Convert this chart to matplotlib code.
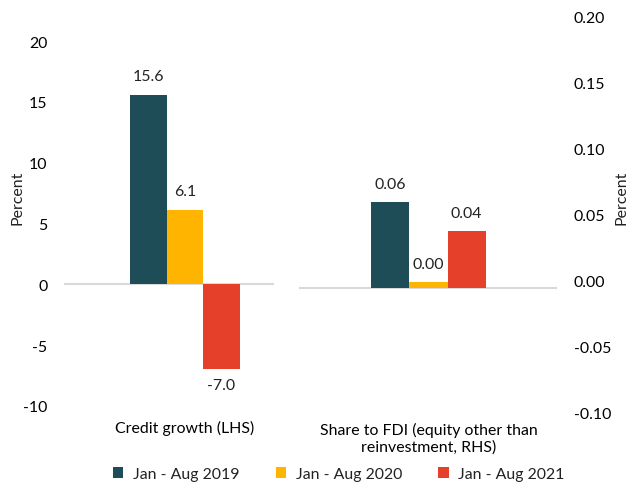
import matplotlib.pyplot as plt
from matplotlib.patches import Patch

plt.rcParams['font.family'] = ['Lato', 'DejaVu Sans']
plt.rcParams['font.size'] = 11.4
plt.rcParams['text.color'] = '#222222'

series = ['Jan - Aug 2019', 'Jan - Aug 2020', 'Jan - Aug 2021']
colors = ['#1E4D58', '#FFB400', '#E5402A']

credit_growth = [15.6, 6.1, -7.0]
credit_labels = ['15.6', '6.1', '-7.0']
fdi_share = [0.06, 0.004, 0.04]
fdi_labels = ['0.06', '0.00', '0.04']

left_ticks = [-10, -5, 0, 5, 10, 15, 20]
right_ticks = [-0.10, -0.05, 0.00, 0.05, 0.10, 0.15, 0.20]

fig = plt.figure(figsize=(6.37, 4.89), dpi=100)

# left panel: credit growth
ax1 = fig.add_axes([0.1005, 0.1677, 0.3297, 0.7464])
pos = [-1, 0, 1]
ax1.bar(pos, credit_growth, width=1.0, color=colors)
ax1.axhline(0, color='#D9D9D9', lw=1.5, zorder=0)
ax1.set_xlim(-3.32, 2.44)
ax1.set_ylim(-10, 20)
ax1.set_yticks(left_ticks)
ax1.set_yticklabels([str(t) for t in left_ticks])
ax1.tick_params(axis='y', length=0, pad=12)
ax1.set_xticks([0])
ax1.set_xticklabels(['Credit growth (LHS)'])
ax1.tick_params(axis='x', length=0, pad=10)
for s in ax1.spines.values():
    s.set_visible(False)
for x, v, lab in zip(pos, credit_growth, credit_labels):
    off = 19 if v >= 0 else -16
    ax1.annotate(lab, (x, v), xytext=(0, off), textcoords='offset pixels',
                 ha='center', va='center')

# right panel: share to FDI
ax2 = fig.add_axes([0.4694, 0.1554, 0.405, 0.8098])
ax2.bar(pos, fdi_share, width=1.0, color=colors)
ax2.axhline(0, color='#D9D9D9', lw=1.5, zorder=0)
ax2.set_xlim(-3.38, 3.36)
ax2.set_ylim(-0.086, 0.189)
ax2.set_yticks([])
ax2.set_xticks([0])
ax2.set_xticklabels(['Share to FDI (equity other than\nreinvestment, RHS)'])
ax2.tick_params(axis='x', length=0, pad=7)
for s in ax2.spines.values():
    s.set_visible(False)
for x, v, lab in zip(pos, fdi_share, fdi_labels):
    ax2.annotate(lab, (x, v), xytext=(0, 18), textcoords='offset pixels',
                 ha='center', va='center')

axr = ax2.twinx()
axr.set_ylim(-0.10, 0.20)
axr.set_yticks(right_ticks)
axr.set_yticklabels(['%.2f' % t for t in right_ticks])
axr.tick_params(axis='y', length=0, pad=12)
for s in axr.spines.values():
    s.set_visible(False)

fig.text(0.028, 0.595, 'Percent', rotation=90, ha='center', va='center')
fig.text(0.976, 0.595, 'Percent', rotation=90, ha='center', va='center')

handles = [Patch(facecolor=c) for c in colors]
fig.legend(handles, series, loc='center', bbox_to_anchor=(0.532, 0.029),
           ncol=3, frameon=False, handlelength=0.65, handleheight=0.65,
           handletextpad=0.6, columnspacing=2.3)

fig.savefig('out.png', dpi=100)
